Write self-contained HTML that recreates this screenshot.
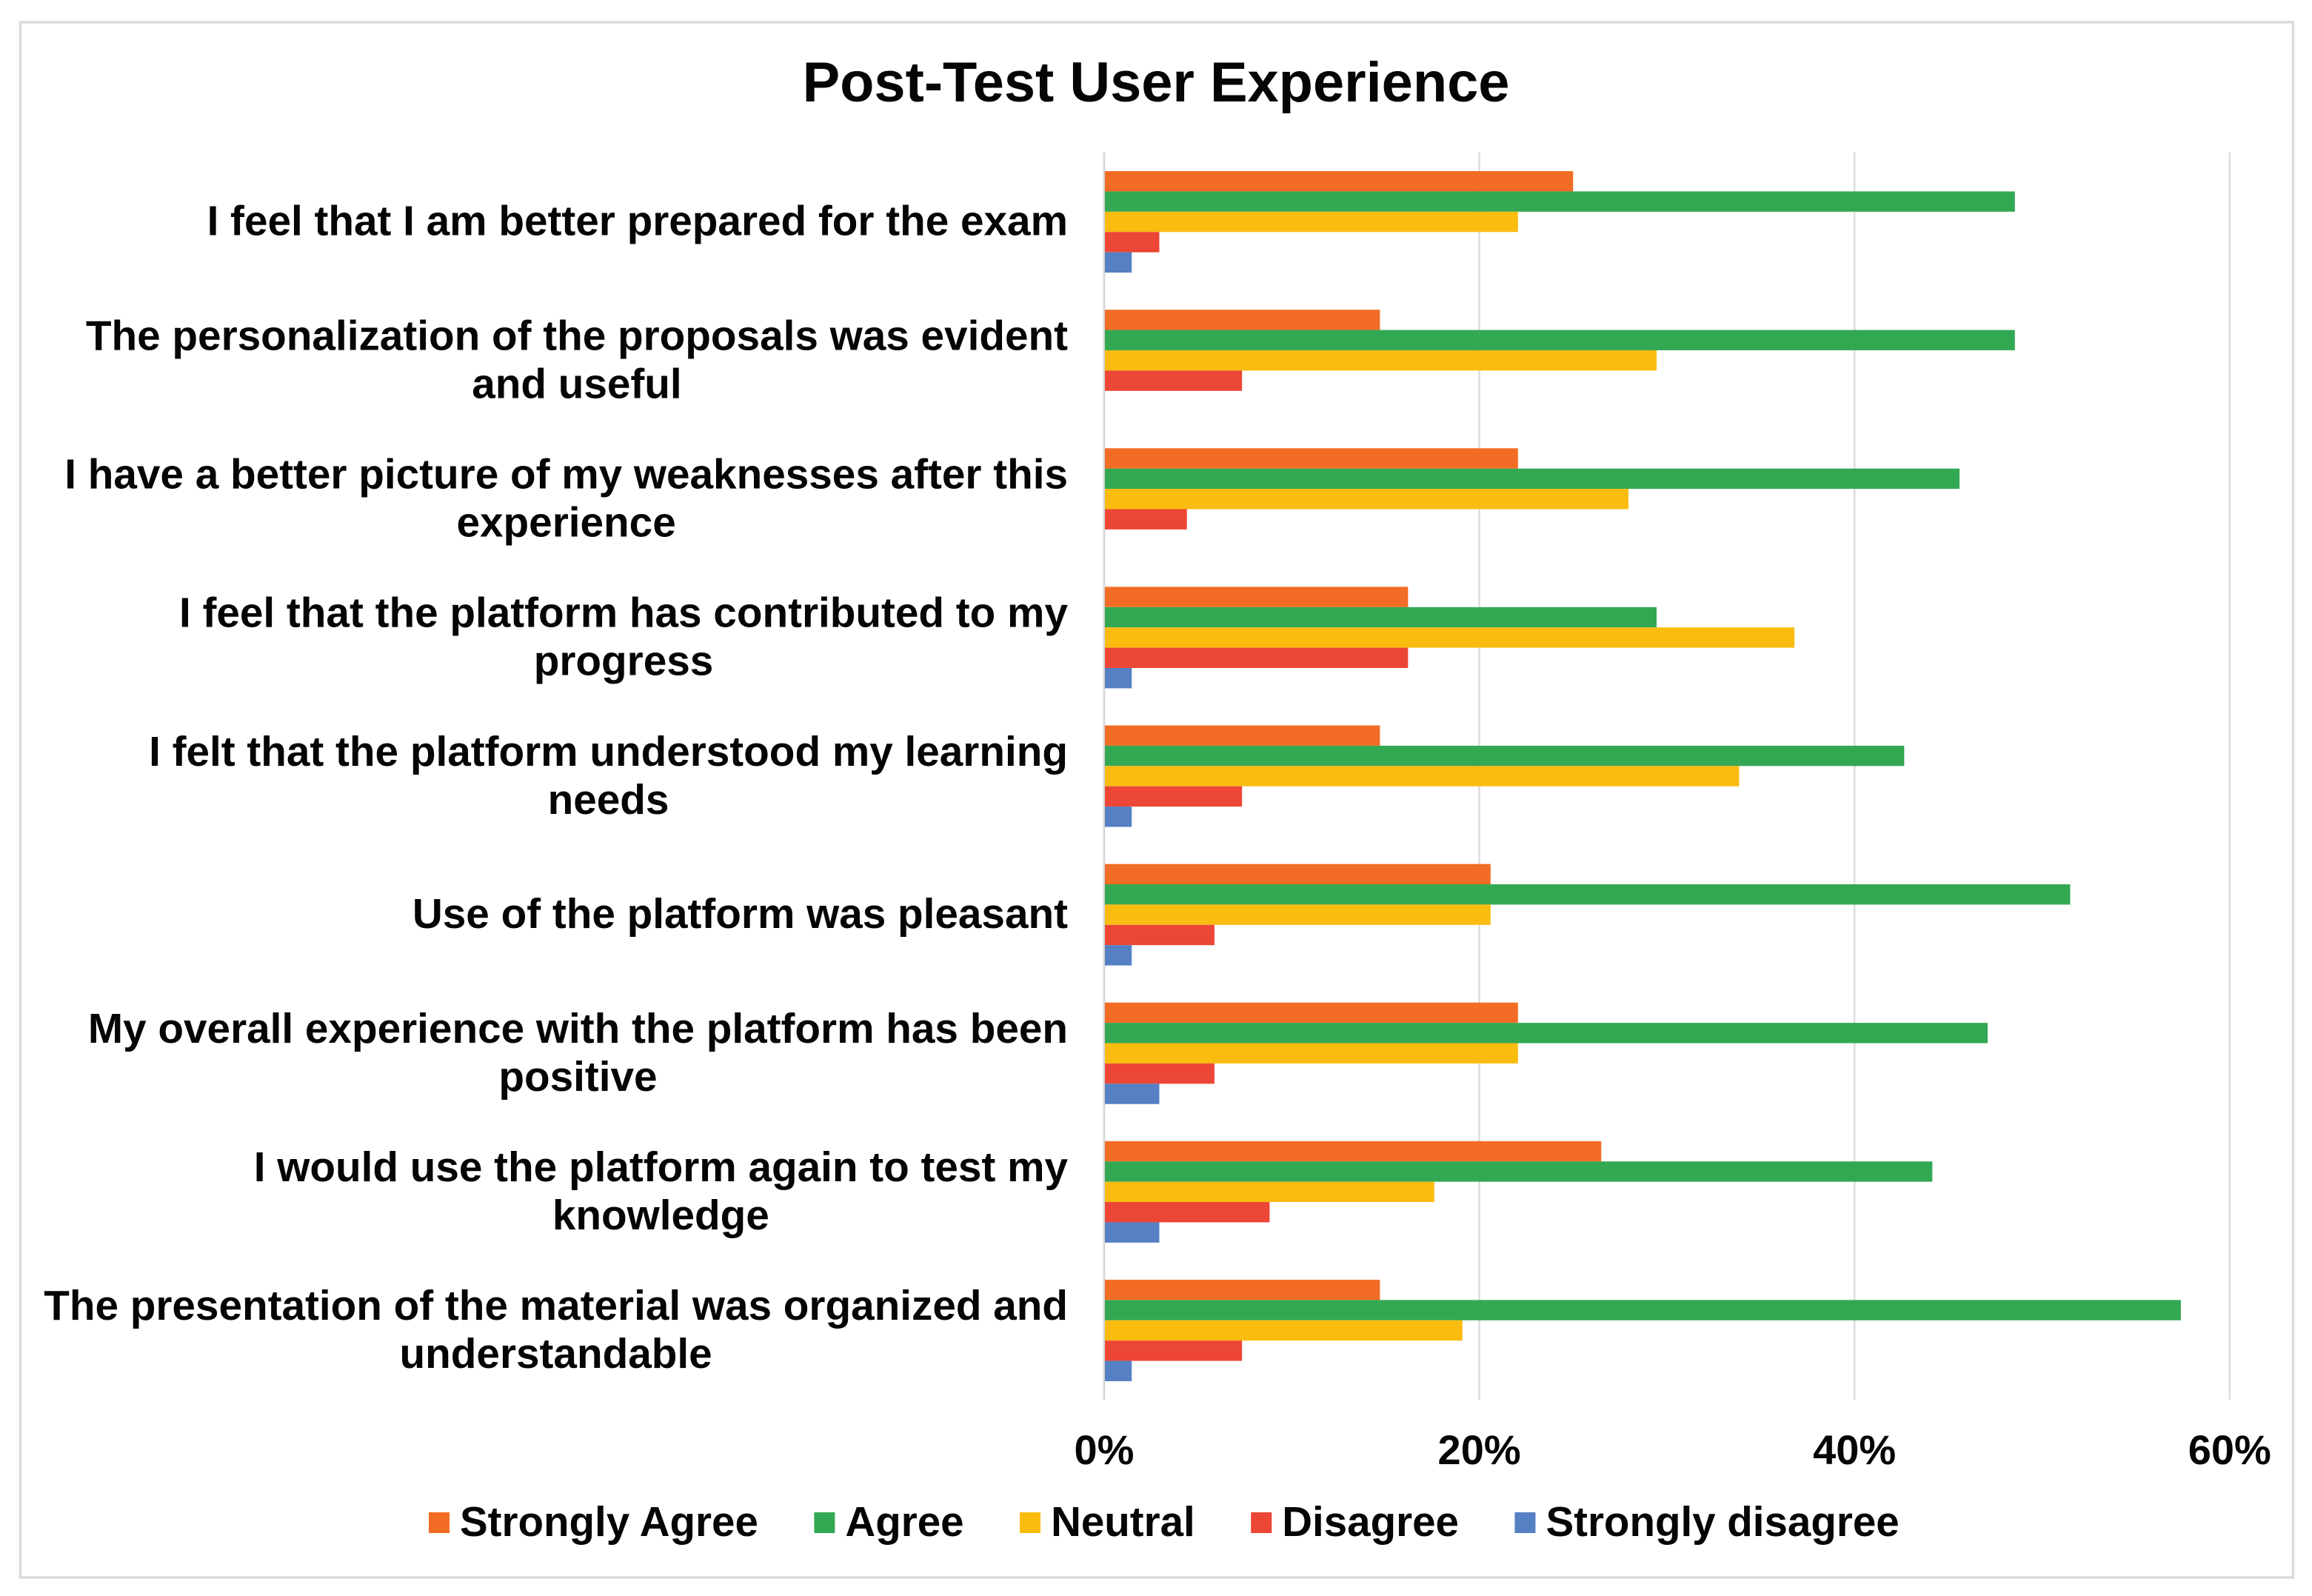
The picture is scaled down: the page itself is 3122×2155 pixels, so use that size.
<!DOCTYPE html>
<html lang="en">
<head>
<meta charset="utf-8">
<title>Post-Test User Experience</title>
<style>
html,body{margin:0;padding:0;background:#fff;width:3122px;height:2155px;overflow:hidden}
svg{display:block}
text{font-family:"Liberation Sans",Arial,sans-serif;font-weight:700;fill:#050505}
</style>
</head>
<body>
<svg id="chart" xmlns="http://www.w3.org/2000/svg" width="3122" height="2155" viewBox="0 0 3122 2155">
  <rect x="0" y="0" width="3122" height="2155" fill="#ffffff"/>
  <rect x="27.5" y="30" width="3069" height="2100" fill="#ffffff" stroke="#dbdbd9" stroke-width="3.5"/>
  <text x="1561" y="137" font-size="75.8" text-anchor="middle">Post-Test User Experience</text>
  <g id="grid"></g>
  <g id="bars"></g>
  <g id="cats"></g>
  <g id="ticks"></g>
  <g id="legend"></g>
</svg>
<script>
const categories = [
  ["I feel that I am better prepared for the exam"],
  ["The personalization of the proposals was evident", "and useful"],
  ["I have a better picture of my weaknesses after this", "experience"],
  ["I feel that the platform has contributed to my", "progress"],
  ["I felt that the platform understood my learning", "needs"],
  ["Use of the platform was pleasant"],
  ["My overall experience with the platform has been", "positive"],
  ["I would use the platform again to test my", "knowledge"],
  ["The presentation of the material was organized and", "understandable"]
];
const seriesNames = ["Strongly Agree", "Agree", "Neutral", "Disagree", "Strongly disagree"];
const seriesColors = ["#f36c25", "#33a852", "#fbbc10", "#ec4636", "#5580c4"];
const stronglyAgree = [25, 14.7, 22.06, 16.2, 14.7, 20.6, 22.06, 26.5, 14.7];
const agree = [48.55, 48.55, 45.6, 29.45, 42.65, 51.5, 47.1, 44.15, 57.4];
const neutral = [22.06, 29.45, 27.95, 36.8, 33.85, 20.6, 22.06, 17.6, 19.1];
const disagree = [2.94, 7.35, 4.41, 16.2, 7.35, 5.88, 5.88, 8.82, 7.35];
const stronglyDisagree = [1.47, 0, 0, 1.47, 1.47, 1.47, 2.94, 2.94, 1.47];
const tickValues = [0, 20, 40, 60];

const allSeries = [stronglyAgree, agree, neutral, disagree, stronglyDisagree];
const NS = "http://www.w3.org/2000/svg";
const plot = {left: 1491, top: 206, bottom: 1890, pxPerUnit: 25.33};
const bandHeight = (plot.bottom - plot.top) / categories.length;
const barHeight = 27.4;
const xScale = v => plot.left + v * plot.pxPerUnit;
const yBand = i => plot.top + i * bandHeight;

function make(tag, attrs, parent) {
  const el = document.createElementNS(NS, tag);
  for (const k in attrs) el.setAttribute(k, attrs[k]);
  parent.appendChild(el);
  return el;
}

const gridG = document.getElementById("grid");
const barsG = document.getElementById("bars");
const catsG = document.getElementById("cats");
const ticksG = document.getElementById("ticks");
const legendG = document.getElementById("legend");

tickValues.forEach(t => {
  const line = make("line", {x1: xScale(t), x2: xScale(t), y1: plot.top, y2: plot.bottom, stroke: t === 0 ? "#d4d4d4" : "#dcdcdc", "stroke-width": 2.5}, gridG);
  
  
  const label = make("text", {x: xScale(t), y: 1977, "font-size": 56, "text-anchor": "middle"}, ticksG);
  
  
  label.textContent = t + "%";
});

categories.forEach((lines, i) => {
  const start = yBand(i) + (bandHeight - barHeight * allSeries.length) / 2;
  allSeries.forEach((vals, s) => {
    const v = vals[i];
    if (v <= 0) return;
    const bar = make("rect", {x: xScale(0) + 1, y: start + s * barHeight, width: xScale(v) - xScale(0) - 1, height: barHeight, fill: seriesColors[s]}, barsG);
    
    
  });

  const center = yBand(i) + bandHeight / 2;
  const right = 1442;
  const els = lines.map((ln, j) => {
    const baseline = lines.length === 1 ? center + 18 : center - 14.2 + j * 65;
    const t = make("text", {y: baseline, "font-size": 56.7, "text-anchor": "middle"}, catsG);
    
    
    t.textContent = ln;
    return t;
  });
  const maxW = Math.max(...els.map(e => e.getComputedTextLength()));
  els.forEach(e => e.setAttribute("x", right - maxW / 2));
});

let lx = 579;
seriesNames.forEach((name, s) => {
  const entry = make("g", {}, legendG);
  
  
  const sw = make("rect", {x: lx, y: 2042, width: 28, height: 28, fill: seriesColors[s]}, entry);
  
  
  const t = make("text", {x: lx + 42, y: 2074, "font-size": 56.5}, entry);
  
  
  t.textContent = name;
  lx += 42 + t.getComputedTextLength() + 75.5;
});
</script>
</body>
</html>
